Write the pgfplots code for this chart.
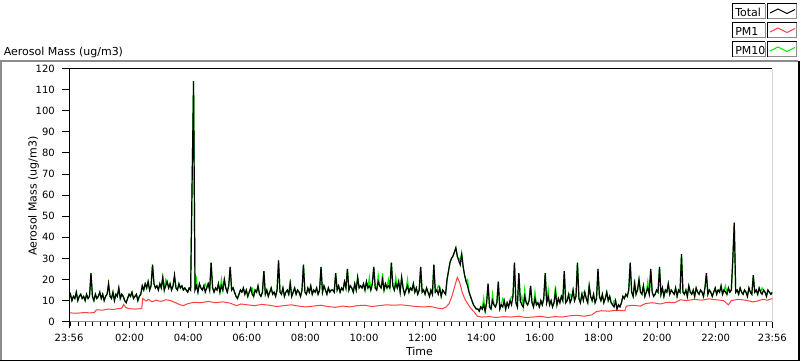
\documentclass[border=0pt]{standalone}
\usepackage{fontspec}
\setmainfont{DejaVu Sans}
\usepackage{pgfplots}
\usepackage{pgfplotstable}
\pgfplotsset{compat=1.18}
\definecolor{pmred}{RGB}{255,64,64}
\definecolor{pmgreen}{RGB}{0,235,0}
\definecolor{fgray}{RGB}{140,140,140}

% Total (t) and PM10 (p), one row every 3 minutes from 23:56
\pgfplotstableread[row sep=\\]{
t p\\
11 11\\ 13 13\\ 10 10\\ 12 12\\ 11 11\\ 14 14\\ 10 10\\ 12 12\\ 13 13\\ 11 11\\ 12 12\\ 10 10\\ 13 13\\ 11 11\\ 12 12\\ 23 23\\ 12 12\\ 10 10\\ 13 13\\ 11 11\\
12 12\\ 14 14\\ 11 11\\ 13 13\\ 10 10\\ 12 12\\ 13 13\\ 18 18\\ 12 12\\ 11 11\\ 14 14\\ 10 10\\ 13 13\\ 12 12\\ 16 16\\ 11 11\\ 13 13\\ 12 12\\ 10 10\\ 9 9\\
11 11\\ 13 13\\ 12 12\\ 14 14\\ 11 11\\ 12 12\\ 13 13\\ 10 10\\ 12 12\\ 13 13\\ 17 17\\ 15 15\\ 18 18\\ 16 16\\ 19 19\\ 15 15\\ 17 17\\ 27 27\\ 18 18\\ 16 16\\
17 17\\ 15 15\\ 18 18\\ 16 16\\ 21 21\\ 15 15\\ 17 20\\ 19 19\\ 16 16\\ 18 18\\ 15 15\\ 17 17\\ 22 22\\ 16 16\\ 15 15\\ 18 18\\ 16 16\\ 17 17\\ 15 15\\ 16 16\\
15 15\\ 14 14\\ 16 16\\ 15 15\\ 65 65\\ 114 114\\ 15 15\\ 17 20\\ 14 14\\ 18 18\\ 16 16\\ 15 15\\ 17 17\\ 14 18\\ 16 16\\ 18 18\\ 15 15\\ 28 28\\ 16 16\\ 14 14\\
16 16\\ 15 15\\ 18 18\\ 14 14\\ 17 20\\ 15 15\\ 20 20\\ 16 16\\ 14 14\\ 17 17\\ 26 26\\ 15 15\\ 16 16\\ 14 14\\ 12 12\\ 11 11\\ 13 13\\ 15 15\\ 14 14\\ 16 16\\
13 13\\ 15 15\\ 12 12\\ 14 14\\ 16 16\\ 13 16\\ 12 12\\ 15 15\\ 14 14\\ 17 17\\ 13 13\\ 12 12\\ 14 14\\ 24 24\\ 13 13\\ 15 15\\ 12 12\\ 14 14\\ 16 16\\ 13 13\\
14 14\\ 12 12\\ 15 15\\ 29 29\\ 14 14\\ 13 13\\ 16 16\\ 12 12\\ 14 14\\ 15 15\\ 13 13\\ 18 20\\ 12 12\\ 14 14\\ 16 16\\ 13 13\\ 15 15\\ 14 14\\ 12 12\\ 15 15\\
27 27\\ 14 14\\ 13 13\\ 16 16\\ 14 14\\ 17 17\\ 13 13\\ 15 15\\ 14 14\\ 16 16\\ 13 13\\ 15 15\\ 26 26\\ 14 14\\ 17 17\\ 15 15\\ 13 13\\ 16 16\\ 14 14\\ 15 15\\
15 15\\ 14 14\\ 23 23\\ 15 15\\ 17 17\\ 14 14\\ 16 16\\ 15 15\\ 19 19\\ 16 16\\ 25 25\\ 15 15\\ 17 17\\ 16 16\\ 14 14\\ 18 18\\ 15 15\\ 21 21\\ 16 16\\ 17 17\\
16 16\\ 18 18\\ 15 15\\ 19 19\\ 16 16\\ 17 21\\ 15 15\\ 18 18\\ 26 26\\ 16 16\\ 15 15\\ 19 22\\ 17 17\\ 16 16\\ 20 23\\ 15 15\\ 18 18\\ 16 16\\ 17 20\\ 16 16\\
28 28\\ 17 17\\ 15 15\\ 18 21\\ 16 16\\ 19 19\\ 14 14\\ 21 21\\ 16 16\\ 13 13\\ 15 15\\ 17 20\\ 14 14\\ 16 16\\ 15 15\\ 18 18\\ 14 14\\ 16 16\\ 13 13\\ 15 15\\
26 26\\ 14 14\\ 15 15\\ 13 13\\ 16 16\\ 14 14\\ 12 12\\ 15 15\\ 13 13\\ 27 27\\ 14 14\\ 15 15\\ 13 17\\ 16 16\\ 12 12\\ 15 15\\ 14 14\\ 13 13\\ 20 20\\ 24 24\\
28 28\\ 30 30\\ 31 31\\ 33 33\\ 35 35\\ 31 31\\ 29 29\\ 27 30\\ 32 32\\ 26 26\\ 22 22\\ 19 19\\ 17 20\\ 14 14\\ 12 12\\ 10 10\\ 8 8\\ 7 7\\ 6 6\\ 6 6\\
5 5\\ 7 7\\ 6 6\\ 8 11\\ 5 5\\ 9 9\\ 18 18\\ 7 7\\ 6 6\\ 10 13\\ 8 8\\ 7 7\\ 9 9\\ 19 19\\ 6 6\\ 8 8\\ 7 11\\ 10 10\\ 6 6\\ 9 9\\
7 7\\ 10 10\\ 8 12\\ 12 12\\ 28 28\\ 9 9\\ 7 7\\ 23 23\\ 10 10\\ 8 12\\ 7 7\\ 12 15\\ 9 9\\ 8 8\\ 10 10\\ 17 17\\ 9 9\\ 7 7\\ 11 14\\ 8 8\\
9 9\\ 7 7\\ 10 10\\ 8 8\\ 11 11\\ 23 23\\ 9 9\\ 12 15\\ 8 8\\ 10 10\\ 7 7\\ 9 9\\ 14 17\\ 8 8\\ 11 11\\ 9 9\\ 12 12\\ 10 10\\ 24 24\\ 9 9\\
10 10\\ 13 13\\ 9 13\\ 11 11\\ 15 15\\ 10 10\\ 12 12\\ 28 28\\ 11 11\\ 9 9\\ 13 13\\ 10 14\\ 14 14\\ 11 11\\ 9 9\\ 17 17\\ 12 12\\ 10 10\\ 13 13\\ 9 9\\
11 11\\ 25 25\\ 12 12\\ 10 10\\ 13 13\\ 9 9\\ 11 11\\ 14 14\\ 10 10\\ 12 12\\ 9 9\\ 8 8\\ 7 10\\ 10 10\\ 6 6\\ 8 8\\ 7 7\\ 9 9\\ 12 12\\ 11 11\\
13 13\\ 12 12\\ 15 15\\ 28 28\\ 14 14\\ 12 12\\ 18 20\\ 13 13\\ 15 15\\ 20 20\\ 14 14\\ 13 13\\ 17 17\\ 12 12\\ 14 14\\ 16 19\\ 13 13\\ 25 25\\ 14 14\\ 12 12\\
13 13\\ 15 15\\ 14 14\\ 26 26\\ 13 13\\ 16 16\\ 12 12\\ 15 15\\ 14 14\\ 18 18\\ 13 13\\ 15 15\\ 14 14\\ 13 13\\ 16 16\\ 12 12\\ 15 15\\ 14 14\\ 32 32\\ 14 14\\
13 13\\ 15 15\\ 12 12\\ 17 17\\ 14 14\\ 13 13\\ 15 15\\ 12 12\\ 16 16\\ 14 14\\ 13 13\\ 15 15\\ 14 14\\ 12 12\\ 16 16\\ 23 23\\ 13 13\\ 15 15\\ 14 14\\ 12 12\\
14 14\\ 16 16\\ 13 13\\ 15 15\\ 14 14\\ 17 17\\ 13 13\\ 15 15\\ 14 17\\ 13 13\\ 16 16\\ 14 14\\ 15 15\\ 29 29\\ 47 47\\ 14 14\\ 15 15\\ 13 13\\ 16 16\\ 14 14\\
13 13\\ 15 15\\ 14 14\\ 12 12\\ 16 16\\ 14 14\\ 13 13\\ 22 22\\ 14 14\\ 15 15\\ 13 13\\ 16 16\\ 14 14\\ 13 16\\ 15 15\\ 14 14\\ 12 12\\ 15 15\\ 14 14\\ 13 13\\
14 14\\
}\tot

% PM1: minutes after 23:56, value
\pgfplotstableread[row sep=\\]{
m v\\
0 4.2\\ 15 4.0\\ 30 4.3\\ 45 4.2\\ 52 4.4\\ 56 5.6\\ 70 5.5\\ 80 6.0\\ 92 5.8\\ 100 6.2\\
108 6.4\\ 112 8.2\\ 116 6.8\\ 122 6.2\\ 135 6.0\\ 145 6.1\\ 149 6.4\\ 151 11.0\\ 158 9.8\\ 163 10.6\\
170 9.4\\ 178 10.2\\ 188 9.6\\ 198 10.4\\ 208 10.0\\ 218 9.0\\ 228 8.0\\ 234 7.6\\ 244 8.6\\ 256 9.2\\
270 9.0\\ 285 9.6\\ 300 9.0\\ 315 9.4\\ 330 8.8\\ 343 7.6\\ 352 8.4\\ 365 8.0\\ 380 7.6\\ 395 8.2\\
410 7.8\\ 425 7.2\\ 440 7.6\\ 455 8.0\\ 470 7.4\\ 485 7.0\\ 500 7.4\\ 515 7.8\\ 530 7.2\\ 545 6.8\\
560 7.4\\ 575 7.0\\ 590 7.6\\ 605 7.8\\ 620 7.2\\ 635 7.6\\ 650 8.0\\ 665 7.8\\ 680 8.0\\ 695 7.6\\
710 7.2\\ 725 7.0\\ 740 7.2\\ 755 6.4\\ 765 6.2\\ 772 7.0\\ 778 8.5\\ 784 12.0\\ 790 17.0\\ 795 21.0\\
800 18.5\\ 805 14.0\\ 810 11.0\\ 815 9.0\\ 822 6.5\\ 830 4.5\\ 836 2.6\\ 845 2.2\\ 860 2.4\\ 875 2.0\\
890 2.4\\ 905 2.2\\ 920 2.6\\ 935 2.0\\ 950 2.2\\ 965 2.6\\ 980 2.0\\ 995 2.4\\ 1010 2.2\\ 1025 2.8\\
1040 3.0\\ 1055 2.6\\ 1070 3.2\\ 1080 4.8\\ 1090 5.2\\ 1105 5.0\\ 1120 5.4\\ 1138 5.2\\ 1141 7.4\\ 1155 7.8\\
1170 7.4\\ 1180 8.6\\ 1195 9.0\\ 1210 8.4\\ 1225 9.2\\ 1240 9.0\\ 1252 10.4\\ 1265 10.0\\ 1280 10.6\\ 1295 10.2\\
1310 10.8\\ 1325 10.4\\ 1340 10.0\\ 1350 8.0\\ 1356 10.0\\ 1370 10.6\\ 1385 10.2\\ 1400 9.4\\ 1410 9.8\\ 1420 10.6\\
1430 10.2\\ 1440 11.0\\
}\pmone

\begin{document}
\begin{tikzpicture}
\path[use as bounding box] (0,0) rectangle (600pt,270.75pt);
\fill[white] (0,0) rectangle (600pt,270.75pt);
\begin{axis}[
  at={(51.75pt,29.475pt)}, anchor=south west,
  scale only axis, width=527.5pt, height=189.9pt,
  xmin=0, xmax=1440, ymin=0, ymax=120,
  axis line style={draw=none},
  xtick={0,124,244,364,484,604,724,844,964,1084,1204,1324,1440},
  xticklabels={23:56,02:00,04:00,06:00,08:00,10:00,12:00,14:00,16:00,18:00,20:00,22:00,23:56},
  minor xtick={4,19,...,1429},
  ytick={0,10,...,120},
  tick pos=left,
  tick align=outside,
  major tick length=5pt,
  minor tick length=3pt,
  tick style={black, line width=0.75pt},
  /pgf/number format/assume math mode=true,
  tick label style={font=\fontsize{7.5}{9}\selectfont},
  yticklabel style={inner sep=0pt, xshift=-5.5pt},
  xticklabel style={inner sep=0pt, yshift=-4pt},
]
\addplot[pmgreen, line width=0.9pt] table[x expr=\coordindex*3, y=p] {\tot};
\addplot[pmred, line width=0.75pt] table[x=m, y=v] {\pmone};
\addplot[black, line width=0.9pt] table[x expr=\coordindex*3, y=t] {\tot};
\draw[fgray, line width=0.75pt] (rel axis cs:0,0) -- (rel axis cs:1,0) -- (rel axis cs:1,1);
\draw[black, line width=0.75pt] (rel axis cs:0,0) -- (rel axis cs:0,1) -- (rel axis cs:1,1);
\end{axis}
\begin{scope}[x=0.75pt,y=0.75pt]
  % outer frame
  \draw[fgray, line width=1.5pt] (0,299.5) -- (798,299.5);
  \draw[fgray, line width=1.5pt] (0.75,0) -- (0.75,299.5);
  \draw[black, line width=1.2pt] (0,0.6) -- (799.2,0.6) -- (799.2,299.5);
  % titles
  \node[anchor=base west, inner sep=0pt, font=\fontsize{8.25}{10}\selectfont] at (3.5,305.5) {Aerosol Mass (ug/m3)};
  \node[anchor=base, rotate=90, inner sep=0pt, font=\fontsize{8.25}{10}\selectfont] at (36.5,165) {Aerosol Mass (ug/m3)};
  \node[anchor=base, inner sep=0pt, font=\fontsize{8.25}{10}\selectfont] at (419.5,5.5) {Time};
  % legend
  \foreach \dy/\name/\col in {0/Total/black, 19/PM1/pmred, 38/PM10/pmgreen}{
    \begin{scope}[yshift=-\dy*0.75pt]
      \draw[fgray, line width=0.75pt] (732.5,342) -- (765,342) -- (765,357);
      \draw[black, line width=0.75pt] (732.5,342) -- (732.5,357) -- (765,357);
      \draw[fgray, line width=0.75pt] (767.5,342) -- (796.5,342) -- (796.5,357);
      \draw[black, line width=0.75pt] (767.5,342) -- (767.5,357) -- (796.5,357);
      \node[anchor=base west, inner sep=0pt, font=\fontsize{8.25}{10}\selectfont] at (735,344.5) {\name};
      \draw[\col, line width=0.75pt] (770,348) -- (778,352) -- (787,347.5) -- (795,351.5);
    \end{scope}
  }
\end{scope}
\end{tikzpicture}
\end{document}
